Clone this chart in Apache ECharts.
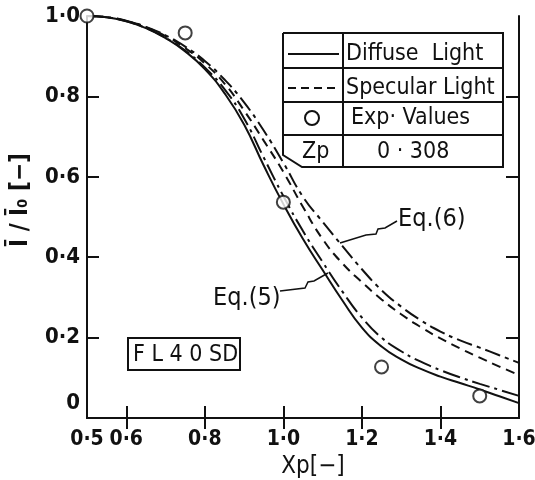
<!DOCTYPE html>
<html>
<head>
<meta charset="utf-8">
<script src="https://cdn.jsdelivr.net/npm/echarts@6/dist/echarts.min.js"></script>
<style>
html,body{margin:0;padding:0;background:#fff;}
#chart{width:535px;height:480px;}
</style>
</head>
<body>
<div id="chart"></div>
<script>
// Xp grid the curves were read at
var xp = [0.5,0.55,0.6,0.65,0.7,0.75,0.8,0.85,0.9,0.95,1.0,1.05,1.1,1.15,1.2,1.25,1.3,1.35,1.4,1.45,1.5,1.55,1.6];
// Eq.(5) pair
var eq5Diffuse  = [1.0,0.997,0.987,0.970,0.945,0.912,0.868,0.808,0.730,0.628,0.532,0.445,0.368,0.293,0.225,0.178,0.146,0.122,0.103,0.087,0.071,0.054,0.037];
var eq5Specular = [1.0,0.997,0.987,0.970,0.946,0.914,0.872,0.818,0.745,0.648,0.552,0.465,0.388,0.315,0.250,0.200,0.166,0.140,0.119,0.101,0.085,0.070,0.055];
// Eq.(6) pair
var eq6Specular = [1.0,0.997,0.988,0.972,0.950,0.920,0.882,0.832,0.765,0.690,0.612,0.525,0.445,0.385,0.338,0.295,0.258,0.226,0.198,0.173,0.150,0.128,0.107];
var eq6Diffuse  = [1.0,0.997,0.988,0.973,0.952,0.924,0.888,0.842,0.785,0.715,0.635,0.550,0.488,0.428,0.370,0.318,0.277,0.243,0.215,0.193,0.175,0.156,0.137];
// experimental values
var expX = [0.5,0.75,1.0,1.25,1.5];
var expY = [1.0,0.958,0.537,0.127,0.055];

var xLabelVals = [0.5,0.6,0.8,1.0,1.2,1.4,1.6];
var xTickVals = [0.6,0.8,1.0,1.2,1.4];
var yLabelVals = [0,0.2,0.4,0.6,0.8,1.0];
var yTickVals = [0.2,0.4,0.6,0.8];

function pairs(xs, ys) {
  var out = [];
  for (var i = 0; i < xs.length; i++) out.push([xs[i], ys[i]]);
  return out;
}
function fmt(v) {
  if (v === 0) return '0';
  return v.toFixed(1).replace('.', '·');
}

var ink = '#111';
var font = '"Liberation Sans Narrow", "DejaVu Sans Condensed", "DejaVu Sans"';
var lineW = 2;
var f23 = '23px ' + font;

var myChart = echarts.init(document.getElementById('chart'));

function lineSeries(name, ys, dash) {
  return {
    name: name,
    type: 'line',
    data: pairs(xp, ys),
    showSymbol: false,
    smooth: true,
    lineStyle: { color: ink, width: lineW, type: dash },
    z: 2
  };
}
function txt(x, y, s, f) {
  return { type: 'text', z: 11, x: x, y: y, style: { text: s, fill: ink, font: f || f23, verticalAlign: 'middle', align: 'left' } };
}
function seg(x1, y1, x2, y2, dash) {
  return { type: 'line', z: 11, shape: { x1: x1, y1: y1, x2: x2, y2: y2 }, style: { stroke: ink, lineWidth: lineW, lineDash: dash || null } };
}

myChart.setOption({
  animation: false,
  backgroundColor: '#fff',
  grid: { left: 87, right: 16, top: 16, bottom: 62, containLabel: false, outerBoundsMode: 'none' },
  xAxis: [{
    type: 'value',
    min: 0.5, max: 1.6,
    name: 'Xp[−]',
    nameLocation: 'middle',
    nameGap: 36,
    nameTextStyle: { color: ink, fontFamily: font, fontSize: 24, padding: [0, 0, 0, 20] },
    axisLine: { show: true, lineStyle: { color: ink, width: lineW } },
    axisTick: { show: true, inside: true, length: 12, customValues: xTickVals, lineStyle: { color: ink, width: lineW } },
    axisLabel: { customValues: xLabelVals, formatter: fmt, margin: 11, color: ink, fontFamily: font, fontSize: 21, fontWeight: 'bold' },
    splitLine: { show: false }
  }, {
    type: 'value',
    position: 'top',
    min: 0.5, max: 1.6,
    axisLine: { show: true, lineStyle: { color: ink, width: lineW } },
    axisTick: { show: true, inside: true, length: 11, customValues: xTickVals, lineStyle: { color: ink, width: lineW } },
    axisLabel: { show: false },
    splitLine: { show: false }
  }],
  yAxis: [{
    type: 'value',
    min: 0, max: 1.0, interval: 0.2,
    name: 'Ī / Ī₀ [−]',
    nameLocation: 'middle',
    nameRotate: 90,
    nameGap: 54,
    nameTextStyle: { color: ink, fontFamily: font, fontSize: 24, fontWeight: 'bold', padding: [0, 0, 0, 34] },
    axisLine: { show: true, lineStyle: { color: ink, width: lineW } },
    axisTick: { show: true, inside: true, length: 12, customValues: yTickVals, lineStyle: { color: ink, width: lineW } },
    axisLabel: {
      customValues: yLabelVals,
      formatter: function (v) { return v === 0 ? '{z|0}' : fmt(v); },
      rich: { z: { padding: [0, 0, 30, 0], fontFamily: font, fontSize: 22, fontWeight: 'bold', color: ink } },
      margin: 7, color: ink, fontFamily: font, fontSize: 22, fontWeight: 'bold'
    },
    splitLine: { show: false }
  }, {
    type: 'value',
    position: 'right',
    min: 0, max: 1.0, interval: 0.2,
    axisLine: { show: true, lineStyle: { color: ink, width: lineW } },
    axisTick: { show: true, inside: true, length: 13, customValues: yTickVals, lineStyle: { color: ink, width: lineW } },
    axisLabel: { show: false },
    splitLine: { show: false }
  }],
  series: [
    lineSeries('Eq.(5) Diffuse', eq5Diffuse, 'solid'),
    lineSeries('Eq.(5) Specular', eq5Specular, [18, 5, 3, 5]),
    lineSeries('Eq.(6) Specular', eq6Specular, [9, 6]),
    lineSeries('Eq.(6) Diffuse', eq6Diffuse, [16, 5, 4, 5]),
    {
      name: 'Exp. Values',
      type: 'scatter',
      data: pairs(expX, expY),
      symbol: 'circle',
      symbolSize: 13,
      itemStyle: { color: '#fff', borderColor: ink, borderWidth: 2 },
      z: 5
    }
  ],
  graphic: [
    // legend table
    { type: 'polyline', z: 10, shape: { points: [[283,33],[503,33],[503,167],[302,167],[283,155],[283,33]] },
      style: { fill: '#fff', stroke: ink, lineWidth: lineW } },
    seg(283, 68, 503, 68),
    seg(283, 102, 503, 102),
    seg(283, 135, 503, 135),
    seg(343, 33, 343, 167),
    seg(288, 54, 339, 54),
    seg(288, 88, 339, 88, [8, 5]),
    { type: 'circle', z: 11, shape: { cx: 312, cy: 118, r: 7 }, style: { fill: '#fff', stroke: ink, lineWidth: lineW } },
    txt(346, 54, 'Diffuse  Light'),
    txt(346, 88, 'Specular Light'),
    txt(351, 118, 'Exp· Values'),
    txt(302, 152, 'Zp'),
    txt(377, 152, '0 · 308'),
    // sample label
    { type: 'rect', z: 10, shape: { x: 128, y: 338, width: 112, height: 32 }, style: { fill: '#fff', stroke: ink, lineWidth: lineW } },
    txt(133, 355, 'F L 4 0 SD', '23px ' + font),
    // equation callouts
    txt(398, 219, 'Eq.(6)', '25px ' + font),
    { type: 'polyline', z: 11, shape: { points: [[340,243],[366,235],[376,234],[378,229],[385,228],[397,221]] },
      style: { fill: null, stroke: ink, lineWidth: 1.5 } },
    txt(213, 298, 'Eq.(5)', '25px ' + font),
    { type: 'polyline', z: 11, shape: { points: [[280,291],[305,288],[308,282],[314,281],[328,273]] },
      style: { fill: null, stroke: ink, lineWidth: 1.5 } }
  ]
});
</script>
</body>
</html>
